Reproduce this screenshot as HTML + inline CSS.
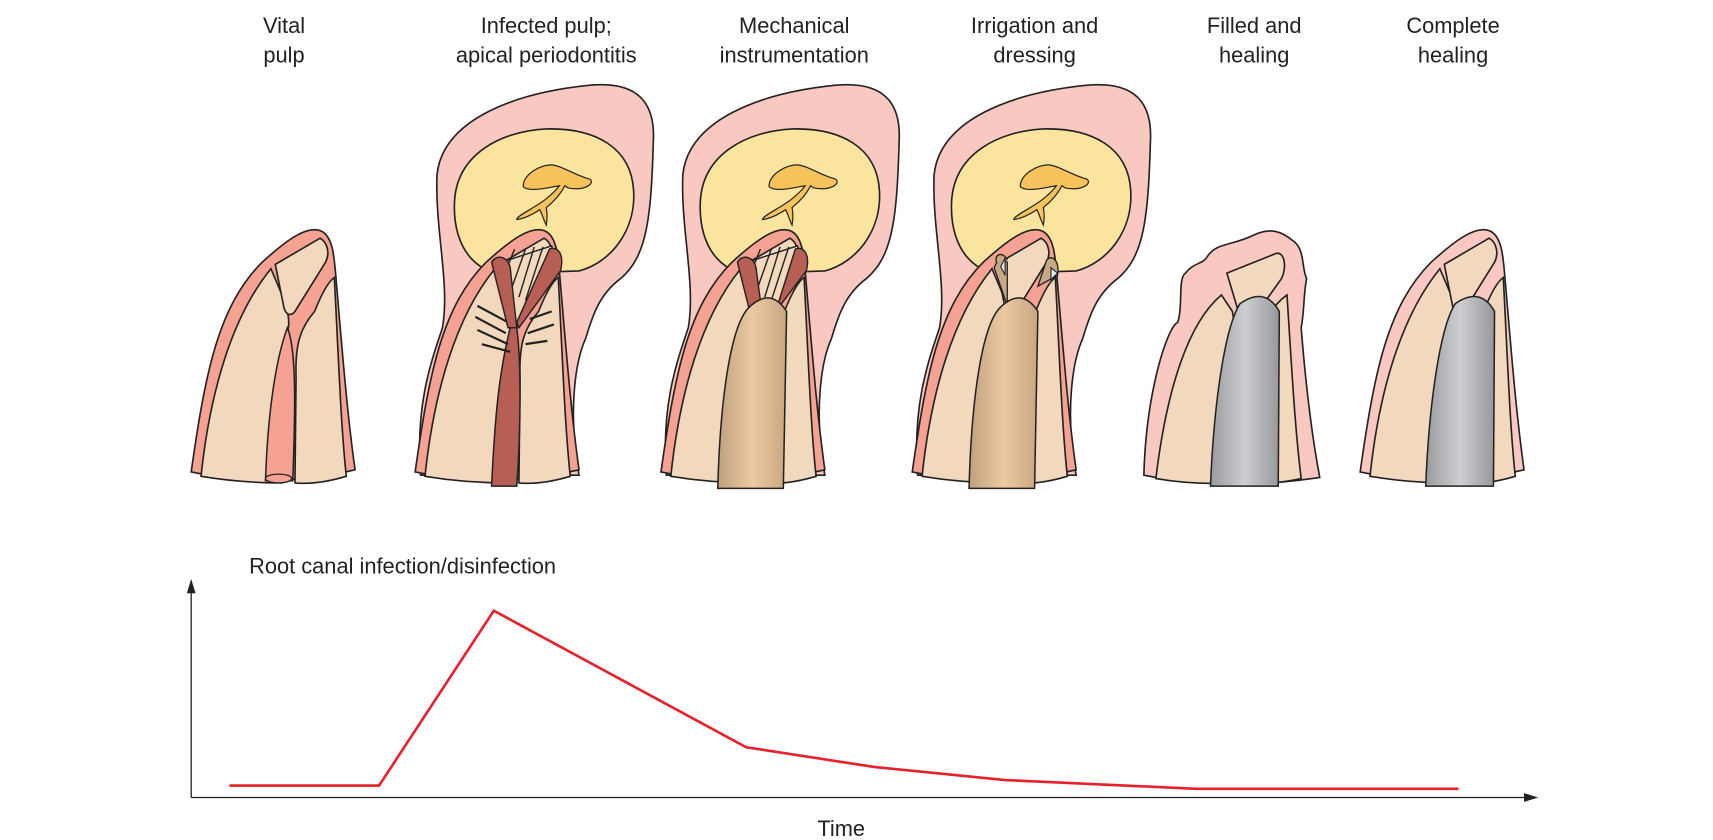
<!DOCTYPE html>
<html><head><meta charset="utf-8"><style>
html,body{margin:0;padding:0;background:#fff}
svg{display:block}
text{font-family:"Liberation Sans Narrow","Liberation Sans",sans-serif;font-size:20px;fill:#222}
</style></head><body>
<svg width="1713" height="840" viewBox="0 0 1713 840" xmlns="http://www.w3.org/2000/svg">
<defs>
<linearGradient id="tan" x1="0" x2="1"><stop offset="0" stop-color="#bfa07e"/><stop offset="0.5" stop-color="#ecc9a1"/><stop offset="1" stop-color="#c8a680"/></linearGradient>
<linearGradient id="grey" x1="0" x2="1"><stop offset="0" stop-color="#9a9b9f"/><stop offset="0.5" stop-color="#cdced1"/><stop offset="1" stop-color="#97989c"/></linearGradient>
<g id="lesion">
<path d="M385,435 C380,370 395,330 405,300 C412,260 398,210 400,160 C405,110 470,85 540,78 C585,74 600,95 598,130 C596,200 592,235 568,255 C548,270 542,290 536,310 C526,332 520,380 530,435 Z" fill="#f9c8c0" stroke="#222" stroke-width="1.5"/>
<path d="M416,185 C418,140 460,120 500,118 C545,117 578,135 580,175 C582,210 560,240 530,248 L470,250 C440,255 414,230 416,185 Z" fill="#fbe59e" stroke="#222" stroke-width="1.5"/>
<path d="M479,171 C478,160 495,150 506,151 C515,152 525,160 540,164 C545,168 535,175 520,172 L517,170 C512,180 505,186 500,190 C501,195 501,200 500,206 C497,200 496,195 494,192 C488,196 480,200 473,201 C472,198 490,190 500,182 C506,177 510,173 512,170 C500,172 485,176 479,171 Z" fill="#f6c25c" stroke="#222" stroke-width="1.1"/>
</g>
<g id="tooth">
<path d="M175,432 C188,340 200,280 240,240 C262,220 282,205 295,212 C305,218 306,235 308,260 C314,330 318,380 325,430 Q250,448 175,432 Z" fill="#f5a293" stroke="#222" stroke-width="1.5"/>
<path d="M184,436 C192,360 212,290 248,246 C258,270 266,285 264,300 C260,320 258,340 258,360 L258,442 Q220,442 184,436 Z" fill="#f2d9bd" stroke="#222" stroke-width="1.5"/>
<path d="M270,442 L271,345 C270,315 275,300 288,285 C294,270 300,258 306,254 C310,330 312,390 317,436 Q290,444 270,442 Z" fill="#f2d9bd" stroke="#222" stroke-width="1.5"/>
<path d="M252,242 L293,218 C300,222 302,232 298,240 L270,285 C266,290 262,288 260,282 Z" fill="#f2d9bd" stroke="#222" stroke-width="1.5"/>
</g>
</defs>
<g transform="scale(1.0925)">
<text x="260" y="30" text-anchor="middle">Vital</text><text x="260" y="57" text-anchor="middle">pulp</text>
<text x="500" y="30" text-anchor="middle">Infected pulp;</text><text x="500" y="57" text-anchor="middle">apical periodontitis</text>
<text x="727" y="30" text-anchor="middle">Mechanical</text><text x="727" y="57" text-anchor="middle">instrumentation</text>
<text x="947" y="30" text-anchor="middle">Irrigation and</text><text x="947" y="57" text-anchor="middle">dressing</text>
<text x="1148" y="30" text-anchor="middle">Filled and</text><text x="1148" y="57" text-anchor="middle">healing</text>
<text x="1330" y="30" text-anchor="middle">Complete</text><text x="1330" y="57" text-anchor="middle">healing</text>

<!-- tooth 1 -->
<use href="#tooth"/>
<path d="M243,440 C245,380 252,330 263,300 C272,320 270,385 268,440 Z" fill="#f5a293" stroke="#222" stroke-width="1.4"/>
<ellipse cx="255" cy="438" rx="12" ry="4" fill="#f5a293" stroke="#222" stroke-width="1.2"/>

<!-- tooth 2 -->
<use href="#lesion"/>
<g transform="translate(205,0)">
<use href="#tooth"/>
<path d="M245,445 C248,380 252,340 262,300 L268,300 C272,330 272,390 268,445 Z" fill="#b85f55" stroke="#222" stroke-width="1.4"/>
<path d="M248,242 L300,225 L302,245 L268,300 L262,300 Z" fill="#f2d9bd" stroke="#222" stroke-width="1.3"/>
<g stroke="#222" stroke-width="1.3"><path d="M258,248 L266,228 M264,262 L276,228 M270,272 L284,226 M276,275 L292,226"/></g>
<g stroke="#222" stroke-width="2"><path d="M232,280 L260,295 M230,290 L258,305 M232,302 L260,315 M236,315 L262,322 M280,292 L300,285 M278,305 L302,297 M276,315 L296,312"/></g>
<path d="M245,240 C250,232 260,235 262,245 L268,300 L260,300 Z" fill="#b85f55" stroke="#222" stroke-width="1.3"/>
<path d="M298,228 C305,225 312,232 308,248 L270,300 L268,295 Z" fill="#b85f55" stroke="#222" stroke-width="1.3"/>
</g>

<!-- tooth 3 -->
<use href="#lesion" transform="translate(225,0)"/>
<g transform="translate(430,0)">
<use href="#tooth"/>
<path d="M248,242 L300,225 L302,245 L275,290 L262,290 Z" fill="#f2d9bd" stroke="#222" stroke-width="1.3"/>
<g stroke="#222" stroke-width="1.3"><path d="M258,248 L266,228 M264,262 L276,228 M270,272 L284,226 M276,275 L292,226"/></g>
<path d="M245,240 C250,232 260,235 262,245 L268,290 L258,292 Z" fill="#b85f55" stroke="#222" stroke-width="1.3"/>
<path d="M298,228 C305,225 312,232 308,248 L280,285 Z" fill="#b85f55" stroke="#222" stroke-width="1.3"/>
<path d="M227,447 C229,370 238,300 255,282 Q275,262 290,285 L287,447 Z" fill="url(#tan)" stroke="#222" stroke-width="1.4"/>
</g>

<!-- tooth 4 -->
<use href="#lesion" transform="translate(455,0)"/>
<g transform="translate(660,0)">
<use href="#tooth"/>
<path d="M250,245 L255,235 L262,240 L262,280 Z" fill="#c9a886" stroke="#222" stroke-width="1.2"/>
<path d="M252,240 C250,232 258,230 262,238" fill="#c9a886" stroke="#222" stroke-width="1.2"/>
<path d="M256,244 L260,236 L260,252 Z" fill="#dbeaf5" stroke="#222" stroke-width="1"/>
<path d="M298,238 C304,232 310,240 308,252 L290,262 Z" fill="#c9a886" stroke="#222" stroke-width="1.2"/>
<path d="M302,245 L308,250 L302,256 Z" fill="#dbeaf5" stroke="#222" stroke-width="1"/>
<path d="M227,447 C229,370 238,300 255,282 Q275,262 290,285 L287,447 Z" fill="url(#tan)" stroke="#222" stroke-width="1.4"/>
</g>

<!-- tooth 5 -->
<g transform="translate(873,0)">
<path d="M174,435 C176,360 195,300 205,295 C210,280 205,255 212,250 C220,240 228,242 232,235 C240,222 255,225 275,215 C290,208 300,212 310,220 C322,228 318,245 323,255 C320,270 321,285 318,300 C322,350 328,400 335,437 Q250,450 174,435 Z" fill="#f9c8c0" stroke="#222" stroke-width="1.5"/>
<path d="M185,438 C195,355 215,295 245,270 L255,285 C258,300 258,330 258,350 L258,442 Q220,444 185,438 Z" fill="#f2d9bd" stroke="#222" stroke-width="1.5"/>
<path d="M268,442 L271,340 C271,312 280,300 288,290 C292,282 298,275 305,270 C309,330 312,390 318,438 Q290,444 268,442 Z" fill="#f2d9bd" stroke="#222" stroke-width="1.5"/>
<path d="M250,250 L295,232 C303,230 305,245 300,255 L280,283 L262,290 Z" fill="#f2d9bd" stroke="#222" stroke-width="1.5"/>
<path d="M235,445 C238,370 248,300 262,278 Q285,262 298,285 L297,445 Z" fill="url(#grey)" stroke="#222" stroke-width="1.4"/>
</g>

<!-- tooth 6 -->
<g transform="translate(1070,0)">
<path d="M175,432 C188,340 200,280 240,240 C262,220 282,205 295,212 C305,218 306,235 308,260 C314,330 318,380 325,430 Q250,448 175,432 Z" fill="#f9c8c0" stroke="#222" stroke-width="1.5"/>
<path d="M184,436 C192,360 212,290 248,246 C258,270 266,285 264,300 C260,320 258,340 258,360 L258,442 Q220,442 184,436 Z" fill="#f2d9bd" stroke="#222" stroke-width="1.5"/>
<path d="M270,442 L271,345 C270,315 275,300 288,285 C294,270 300,258 306,254 C310,330 312,390 317,436 Q290,444 270,442 Z" fill="#f2d9bd" stroke="#222" stroke-width="1.5"/>
<path d="M252,242 L293,218 C300,222 302,232 298,240 L270,285 C266,290 262,288 260,282 Z" fill="#f2d9bd" stroke="#222" stroke-width="1.5"/>
<path d="M235,445 C238,370 248,300 262,278 Q285,262 298,285 L297,445 Z" fill="url(#grey)" stroke="#222" stroke-width="1.4"/>
</g>

<!-- graph -->
<text x="228" y="525">Root canal infection/disinfection</text>
<text x="770" y="765" text-anchor="middle">Time</text>
<line x1="175" y1="730" x2="175" y2="540" stroke="#222" stroke-width="1.2"/>
<path d="M175,530 L171,543 L179,543 Z" fill="#222"/>
<line x1="175" y1="730" x2="1396" y2="730" stroke="#222" stroke-width="1.2"/>
<path d="M1408,730 L1395,726 L1395,734 Z" fill="#222"/>
<polyline points="210,719 347,719 452,559 683,684 800,702 920,714 1095,722 1335,722" fill="none" stroke="#e8202a" stroke-width="2.4"/>
</g>
</svg>
</body></html>
